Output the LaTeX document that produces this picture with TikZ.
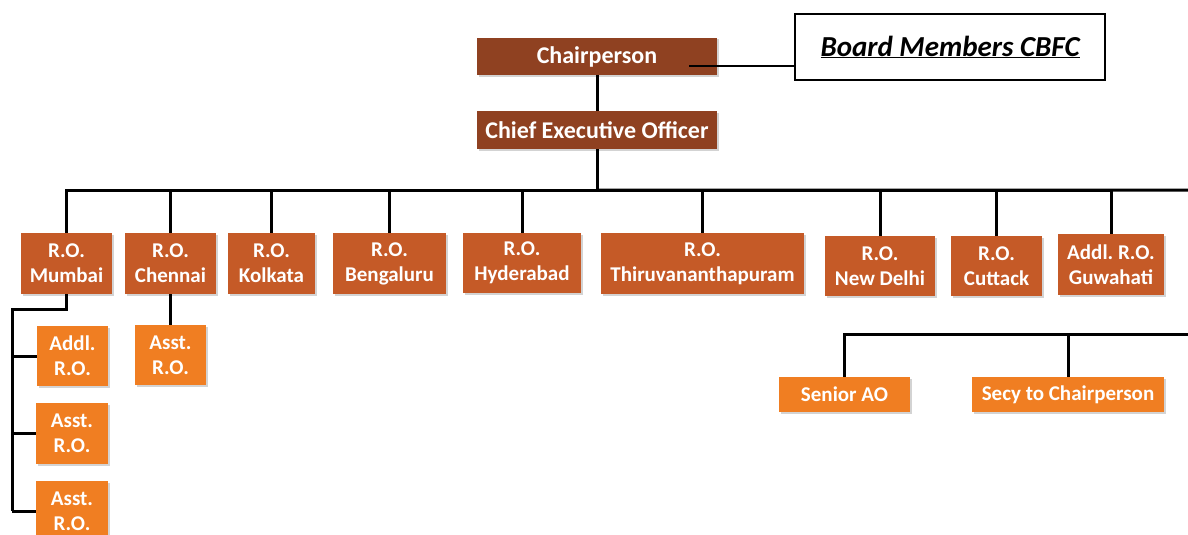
\documentclass[tikz,border=0pt]{standalone}
\usepackage{fontspec}
\setmainfont{Carlito}
\usepackage{xcolor}
\usepackage{tikz}
\definecolor{topbrown}{RGB}{143, 65, 33}
\definecolor{rooffice}{RGB}{197, 90, 39}
\definecolor{suboffice}{RGB}{240, 126, 34}
\usetikzlibrary{positioning, calc, shadows}
\frenchspacing

\begin{document}
\begin{tikzpicture}[
        x=1pt, y=-1pt,
        orgline/.style={line width=3pt, black},
        boardline/.style={line width=2pt, black},
        orgnode/.style={rectangle, inner sep=0pt, align=center, text=white, font=\fontsize{21}{25}\selectfont\bfseries, drop shadow={shadow xshift=1.5pt, shadow yshift=-1.5pt, opacity=0.35}},
        topnode/.style={orgnode, fill=topbrown, font=\fontsize{24}{28}\selectfont\bfseries},
        ronode/.style={orgnode, fill=rooffice},
        subnode/.style={orgnode, fill=suboffice}
    ]
        \useasboundingbox (0,0) rectangle (1188,535);
        \clip (0,0) rectangle (1188,535);

        % Top level
        \node[topnode, minimum width=240pt, minimum height=37pt] (chair) at (597,56.5) {Chairperson};
        \node[topnode, minimum width=240pt, minimum height=38pt] (ceo) at (597,130) {Chief Executive Officer};
        \node[draw, line width=1.5pt, fill=white, minimum width=310pt, minimum height=66pt, font=\fontsize{29}{32}\selectfont\bfseries\itshape] (board) at (950,47) {\underline{Board Members CBFC}};

        % Regional offices
        \node[ronode, minimum width=91pt, minimum height=61pt] (mumbai) at (66.5,263.5) {R.O.\\Mumbai};
        \node[ronode, minimum width=91pt, minimum height=61pt] (chennai) at (170.5,263.5) {R.O.\\Chennai};
        \node[ronode, minimum width=87pt, minimum height=61pt] (kolkata) at (271.5,263.5) {R.O.\\Kolkata};
        \node[ronode, minimum width=113pt, minimum height=61pt] (bengaluru) at (389.5,263.5) {R.O.\\Bengaluru};
        \node[ronode, minimum width=118pt, minimum height=60pt] (hyderabad) at (522,263) {R.O.\\Hyderabad};
        \node[ronode, minimum width=203pt, minimum height=61pt] (thiru) at (702.5,263.5) {R.O.\\Thiruvananthapuram};
        \node[ronode, minimum width=110pt, minimum height=60pt] (newdelhi) at (880,266) {R.O.\\New Delhi};
        \node[ronode, minimum width=91pt, minimum height=60pt] (cuttack) at (996.5,266) {R.O.\\Cuttack};
        \node[ronode, minimum width=106pt, minimum height=61pt] (guwahati) at (1111,264.5) {Addl. R.O.\\Guwahati};

        % Sub offices
        \node[subnode, minimum width=71pt, minimum height=60pt] (addlmum) at (72.5,356) {Addl.\\R.O.};
        \node[subnode, minimum width=72pt, minimum height=61pt] (asstmumA) at (72,433.5) {Asst.\\R.O.};
        \node[subnode, minimum width=72pt, minimum height=60pt] (asstmumB) at (72,511) {Asst.\\R.O.};
        \node[subnode, minimum width=71pt, minimum height=60pt] (asstche) at (170.5,355) {Asst.\\R.O.};
        \node[subnode, minimum width=131pt, minimum height=35pt] (seniorao) at (844.5,394.5) {Senior AO};
        \node[subnode, minimum width=192pt, minimum height=35pt] (secy) at (1068,394.5) {Secy to Chairperson};

        % Connectors
        \draw[orgline] (chair.south) -- (ceo.north);
        \coordinate (boardstart) at ($(chair.center)+(92,9.5)$);
        \draw[boardline] (boardstart) -- (boardstart -| board.west);

        \draw[orgline] (ceo.south) -- ++(0,41) coordinate (bus);
        \coordinate (busend) at (1188,190);
        \draw[orgline] (bus) -- (busend);
        \foreach \ro in {mumbai, chennai, kolkata, bengaluru, hyderabad, thiru, newdelhi, cuttack, guwahati}
            \draw[orgline] (bus) -| (\ro.north);

        \coordinate (spine) at (12,309);
        \draw[orgline] (mumbai.south) |- (spine) -- (spine |- asstmumB.west);
        \foreach \sub in {addlmum, asstmumA, asstmumB}
            \draw[orgline] (\sub.west) -- (\sub.west -| spine);
        \draw[orgline] (chennai.south) -- (asstche.north);

        \coordinate (lowend) at (1188,334);
        \draw[orgline] (seniorao.north) |- (lowend);
        \draw[orgline] (secy.north) -- (secy.north |- lowend);
    \end{tikzpicture}
\end{document}
